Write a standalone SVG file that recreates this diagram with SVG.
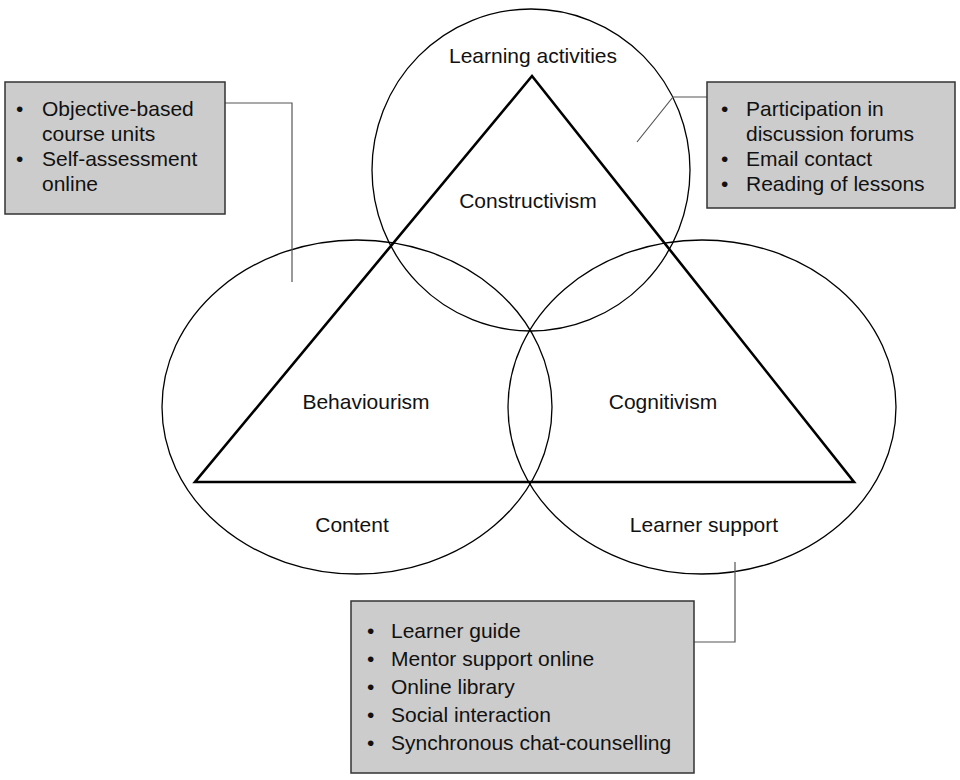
<svg xmlns="http://www.w3.org/2000/svg" width="960" height="780" viewBox="0 0 960 780">
  <style>
    .ring { fill: none; stroke: #000; stroke-width: 1.3; }
    .tri { fill: none; stroke: #000; stroke-width: 2.6; stroke-linejoin: miter; }
    .box { fill: #cccccc; stroke: #333; stroke-width: 1.5; }
    .lead { fill: none; stroke: #555; stroke-width: 1.2; }
    text { font-family: "Liberation Sans", Arial, sans-serif; font-size: 21px; fill: #111; }
    .mid { text-anchor: middle; }
  </style>
  <rect width="960" height="780" fill="#fff"/>

  <!-- three overlapping domains -->
  <g id="activities-ring">
    <ellipse class="ring" cx="531" cy="170" rx="159" ry="161"/>
    <text class="mid" x="533" y="63">Learning activities</text>
  </g>
  <g id="content-ring">
    <ellipse class="ring" cx="357" cy="407" rx="195" ry="167"/>
    <text class="mid" x="352" y="532">Content</text>
  </g>
  <g id="support-ring">
    <ellipse class="ring" cx="702" cy="407" rx="194" ry="167"/>
    <text class="mid" x="704" y="532">Learner support</text>
  </g>

  <!-- learning theories triangle -->
  <g id="theories">
    <polygon class="tri" points="532,76 195,482 854,482"/>
    <text class="mid" x="528" y="208">Constructivism</text>
    <text class="mid" x="366" y="409">Behaviourism</text>
    <text class="mid" x="663" y="409">Cognitivism</text>
  </g>

  <!-- leader lines -->
  <g id="connectors">
    <polyline class="lead" points="225,103 292,103 292,282"/>
    <polyline class="lead" points="707,97 673,97 637,142"/>
    <polyline class="lead" points="694,642 735,642 735,562"/>
  </g>

  <g id="content-box">
    <rect class="box" x="5" y="82" width="220" height="132"/>
    <text x="16" y="116">•</text>
    <text x="42" y="116">Objective-based</text>
    <text x="42" y="141">course units</text>
    <text x="16" y="166">•</text>
    <text x="42" y="166">Self-assessment</text>
    <text x="42" y="191">online</text>
  </g>

  <g id="activities-box">
    <rect class="box" x="707" y="82" width="248" height="126"/>
    <text x="721" y="116">•</text>
    <text x="746" y="116">Participation in</text>
    <text x="746" y="141">discussion forums</text>
    <text x="721" y="166">•</text>
    <text x="746" y="166">Email contact</text>
    <text x="721" y="191">•</text>
    <text x="746" y="191">Reading of lessons</text>
  </g>

  <g id="support-box">
    <rect class="box" x="351" y="601" width="343" height="172"/>
    <text x="367" y="638">•</text>
    <text x="391" y="638">Learner guide</text>
    <text x="367" y="666">•</text>
    <text x="391" y="666">Mentor support online</text>
    <text x="367" y="694">•</text>
    <text x="391" y="694">Online library</text>
    <text x="367" y="722">•</text>
    <text x="391" y="722">Social interaction</text>
    <text x="367" y="750">•</text>
    <text x="391" y="750">Synchronous chat-counselling</text>
  </g>
</svg>
